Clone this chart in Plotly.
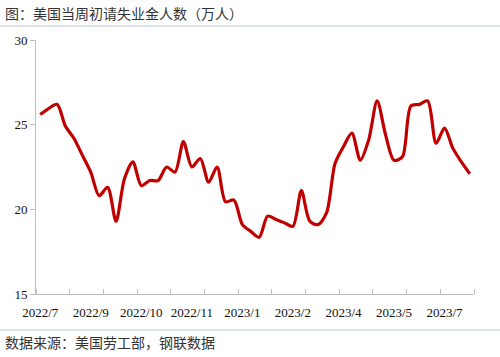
import plotly.graph_objects as go

# ---- data (weekly initial jobless claims, 10k persons) ----
weeks = list(range(52))
claims = [25.6, 25.95, 26.2, 24.9, 24.2, 23.2, 22.2, 20.8, 21.3, 19.3,
          21.8, 22.8, 21.4, 21.7, 21.7, 22.5, 22.2, 24.0, 22.5, 23.0,
          21.6, 22.5, 20.45, 20.55, 19.1, 18.7, 18.35, 19.6, 19.4, 19.2,
          19.0, 21.1, 19.3, 19.1, 19.8, 22.7, 23.7, 24.5, 22.9, 24.1,
          26.4, 24.4, 22.9, 23.1, 26.1, 26.2, 26.4, 23.9, 24.8, 23.6,
          22.8, 22.1]
tick_labels = ["2022/7", "2022/9", "2022/10", "2022/11", "2023/1",
               "2023/2", "2023/4", "2023/5", "2023/7"]
label_idx = [0, 6, 12, 18, 24, 30, 36, 42, 48]
tickmark_pos = [-0.5 + 4 * k for k in range(14)]
y_ticks = [15, 20, 25, 30]

title_text = "图：美国当周初请失业金人数（万人）"
source_text = "数据来源：美国劳工部，钢联数据"

W, H = 500, 357
L, R, T, B = 36, 26, 40, 63
pw, ph = W - L - R, H - T - B

def px_x(px):
    return (px - L) / pw

def px_y(py):
    return (H - B - py) / ph

axis_col = "#bfbfbf"
serif = "Liberation Serif, Times New Roman, serif"
cjk = "Noto Sans CJK SC"

fig = go.Figure()
fig.add_trace(go.Scatter(
    x=weeks, y=claims, mode="lines",
    line=dict(color="#C00000", width=3.2, shape="spline", smoothing=0.8),
    hoverinfo="skip"))

fig.update_layout(
    width=W, height=H,
    margin=dict(l=L, r=R, t=T, b=B),
    plot_bgcolor="white", paper_bgcolor="white",
    showlegend=False,
    xaxis=dict(range=[-0.5, 51.5], tickmode="array", tickvals=label_idx,
               ticktext=tick_labels, ticks="", showline=True,
               linecolor=axis_col, linewidth=1, showgrid=False,
               zeroline=False, ticklabelstandoff=6,
               tickfont=dict(family=serif, size=13, color="#111"),
               minor=dict(tickmode="array", tickvals=tickmark_pos,
                          ticks="inside", ticklen=5, tickcolor=axis_col,
                          showgrid=False)),
    yaxis=dict(range=[15, 30], tickmode="array", tickvals=y_ticks,
               ticks="outside", ticklen=5, tickcolor=axis_col,
               showline=True, linecolor=axis_col, linewidth=1,
               showgrid=False, zeroline=False,
               tickfont=dict(family=serif, size=13, color="#111")),
)

# header / footer texts
fig.add_annotation(text=title_text, xref="paper", yref="paper",
                   x=px_x(3), y=px_y(13), xanchor="left", yanchor="middle",
                   showarrow=False, font=dict(family=cjk, size=14, color="#333"))
fig.add_annotation(text=source_text, xref="paper", yref="paper",
                   x=px_x(3), y=px_y(342), xanchor="left", yanchor="middle",
                   showarrow=False, font=dict(family=cjk, size=14, color="#333"))

# separator lines
for py in (26, 330):
    fig.add_shape(type="line", xref="paper", yref="paper",
                  x0=px_x(0), x1=px_x(W), y0=px_y(py), y1=px_y(py),
                  line=dict(color="#b8c4d2", width=1))

fig.write_html("out.html",
               config={"displayModeBar": False},
               post_script="document.body.style.margin='0px';"
                           "document.body.style.overflow='hidden';")
